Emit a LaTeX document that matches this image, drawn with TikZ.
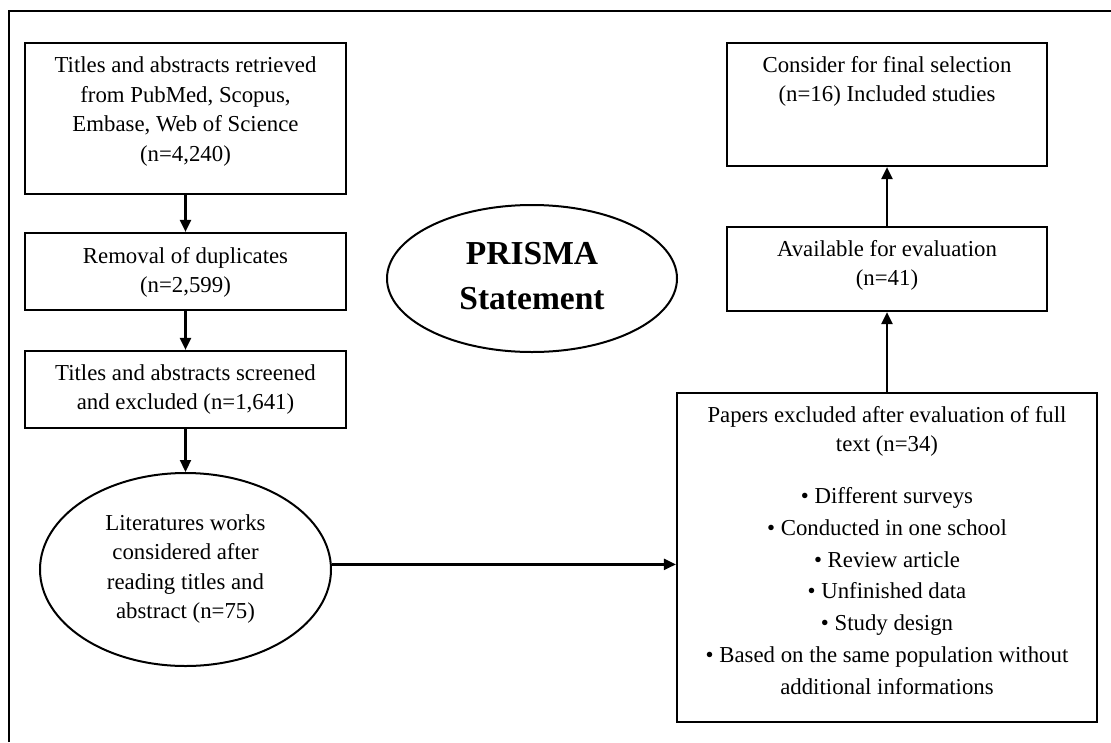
\documentclass[tikz,border=0pt]{standalone}
\usepackage{fontspec}
\setmainfont{Liberation Serif}
\usetikzlibrary{arrows.meta,shapes.geometric}
\begin{document}
\begin{tikzpicture}[x=1pt,y=-1pt,
  box/.style={draw,line width=2.2pt,rectangle,inner sep=0pt},
  oval/.style={draw,line width=2pt,ellipse,inner sep=0pt},
  txt/.style={anchor=base,inner sep=0pt,font=\fontsize{22.8}{29.5}\selectfont},
  ptxt/.style={anchor=base,inner sep=0pt,font=\bfseries\fontsize{33.5}{45}\selectfont},
  arr/.style={line width=2.2pt,-{Triangle[length=12pt,width=11pt]}},
  frame/.style={line width=1.8pt}]
\useasboundingbox (0,0) rectangle (1111,742);
\fill[white] (0,0) rectangle (1111,742);
% frame (top and left)
\draw[frame] (9,742) -- (9,11) -- (1111,11);

% left column
\node[box,minimum width=321pt,minimum height=151pt] (b1) at (185.5,118.5) {};
\node[box,minimum width=321pt,minimum height=77pt] (b2) at (185.5,271.5) {};
\node[box,minimum width=321pt,minimum height=77pt] (b3) at (185.5,389.5) {};
\node[oval,minimum width=291pt,minimum height=193pt] (lit) at (185.5,569.5) {};

\node[txt] (t1) at (185.5,72.7) {\begin{tabular}[t]{@{}c@{}}Titles and abstracts retrieved\\ from PubMed, Scopus,\\ Embase, Web of Science\\ (n=4,240)\end{tabular}};
\node[txt] (t2) at (185.5,263) {\begin{tabular}[t]{@{}c@{}}Removal of duplicates\\ (n=2,599)\end{tabular}};
\node[txt] (t3) at (185.5,380) {\begin{tabular}[t]{@{}c@{}}Titles and abstracts screened\\ and excluded (n=1,641)\end{tabular}};
\node[txt] (t4) at (185.5,530) {\begin{tabular}[t]{@{}c@{}}Literatures works\\ considered after\\ reading titles and\\ abstract (n=75)\end{tabular}};

% PRISMA
\node[oval,minimum width=290pt,minimum height=147pt] (prisma) at (532,278.5) {};
\node[ptxt] (tp) at (532,264) {\begin{tabular}[t]{@{}c@{}}PRISMA\\ Statement\end{tabular}};

% right column
\node[box,minimum width=320pt,minimum height=123pt] (fin) at (887,104.5) {};
\node[box,minimum width=320pt,minimum height=84pt] (avail) at (887,269) {};
\node[box,minimum width=420pt,minimum height=329pt] (rbox) at (887,557.5) {};

\node[txt] (t5) at (887,72) {\begin{tabular}[t]{@{}c@{}}Consider for final selection\\ (n=16) Included studies\end{tabular}};
\node[txt] (t6) at (887,256) {\begin{tabular}[t]{@{}c@{}}Available for evaluation\\ (n=41)\end{tabular}};
\node[txt] (t7) at (887,422) {\begin{tabular}[t]{@{}c@{}}Papers excluded after evaluation of full\\ text (n=34)\\[22.5pt]
• Different surveys\\[2.3pt]
• Conducted in one school\\[2.3pt]
• Review article\\[2.3pt]
• Unfinished data\\[2.3pt]
• Study design\\[2.3pt]
• Based on the same population without\\[2.3pt]
additional informations\end{tabular}};

% connectors
\draw[arr] (b1.south) -- (b2.north);
\draw[arr] (b2.south) -- (b3.north);
\draw[arr] (b3.south) -- (lit.north);
\draw[arr] (lit.2.6) -- (lit.2.6 -| rbox.west);
\draw[arr] (rbox.north) -- (avail.south);
\draw[arr] (avail.north) -- (fin.south);
\end{tikzpicture}
\end{document}
